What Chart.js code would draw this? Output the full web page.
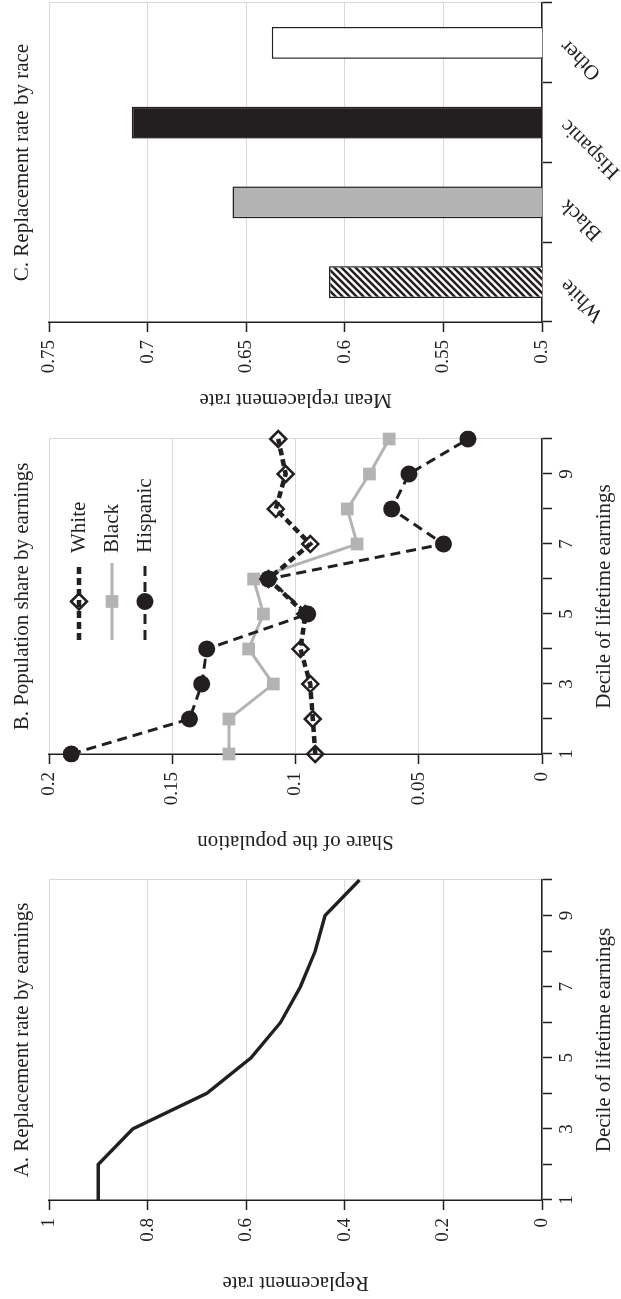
<!DOCTYPE html>
<html>
<head>
<meta charset="utf-8">
<script src="https://cdn.jsdelivr.net/npm/chart.js@4.4.1/dist/chart.umd.min.js"></script>
<style>
  html, body { margin: 0; padding: 0; background: #fff; overflow: hidden; }
  /* the figure is laid out landscape, then turned a quarter turn counter-clockwise */
  #page {
    position: absolute; left: 0; top: 0;
    width: 1299px; height: 621px;
    transform-origin: 0 0;
    transform: translateY(1299px) rotate(-90deg);
  }
  #page canvas { position: absolute; top: 0; }
</style>
</head>
<body>
<div id="page">
  <canvas id="chartA" width="430" height="621" style="left:0px"></canvas>
  <canvas id="chartB" width="430" height="621" style="left:441px"></canvas>
  <canvas id="chartC" width="416" height="621" style="left:883px"></canvas>
</div>
<script>
const deciles = [1, 2, 3, 4, 5, 6, 7, 8, 9, 10];
const replacementRate = [0.90, 0.90, 0.83, 0.68, 0.59, 0.53, 0.49, 0.46, 0.44, 0.37];

const shareWhite = [0.092, 0.093, 0.094, 0.098, 0.096, 0.111, 0.094, 0.108, 0.104, 0.107];
const shareBlack = [0.127, 0.127, 0.109, 0.119, 0.113, 0.117, 0.075, 0.079, 0.070, 0.062];
const shareHispanic = [0.191, 0.143, 0.138, 0.136, 0.095, 0.111, 0.040, 0.061, 0.054, 0.030];

const races = ["White", "Black", "Hispanic", "Other"];
const meanReplacement = [0.608, 0.657, 0.708, 0.637];

const ink = "#231f20";
const gray = "#b3b3b3";
const gridGray = "#d9d9d9";
const serif = "Liberation Serif";

Chart.defaults.font.family = serif;
Chart.defaults.color = ink;

/* Panel title, centred over the plot area */
const panelTitle = {
  id: "panelTitle",
  afterDraw(chart, args, opts) {
    const { ctx, chartArea } = chart;
    ctx.save();
    ctx.font = "21px '" + serif + "'";
    ctx.fillStyle = ink;
    ctx.textAlign = "center";
    ctx.textBaseline = "middle";
    ctx.fillText(opts.text, (chartArea.left + chartArea.right) / 2, 22);
    ctx.restore();
  }
};

/* Legend inside panel B: line sample with marker */
function drawMarker(ctx, ds, x, y) {
  const r = ds.pointRadius;
  ctx.beginPath();
  if (ds.pointStyle === "circle") {
    ctx.arc(x, y, r, 0, Math.PI * 2);
  } else if (ds.pointStyle === "rect") {
    const h = r * Math.SQRT1_2;
    ctx.rect(x - h, y - h, 2 * h, 2 * h);
  } else {
    ctx.moveTo(x, y - r); ctx.lineTo(x + r, y); ctx.lineTo(x, y + r); ctx.lineTo(x - r, y);
    ctx.closePath();
  }
  ctx.fillStyle = ds.pointBackgroundColor;
  ctx.fill();
  if (ds.pointBorderWidth > 0) {
    ctx.lineWidth = ds.pointBorderWidth;
    ctx.strokeStyle = ds.pointBorderColor;
    ctx.stroke();
  }
}

const seriesLegend = {
  id: "seriesLegend",
  afterDraw(chart, args, opts) {
    if (!opts.show) return;
    const { ctx, chartArea } = chart;
    chart.data.datasets.forEach((ds, i) => {
      const y = chartArea.top + 30 + i * 33;
      const x0 = chartArea.left + 114, x1 = chartArea.left + 191;
      ctx.save();
      ctx.strokeStyle = ds.borderColor;
      ctx.lineWidth = ds.borderWidth;
      ctx.setLineDash(ds.borderDash || []);
      ctx.beginPath();
      ctx.moveTo(x0, y);
      ctx.lineTo(x1, y);
      ctx.stroke();
      ctx.setLineDash([]);
      drawMarker(ctx, ds, (x0 + x1) / 2, y);
      ctx.fillStyle = ink;
      ctx.font = "21px '" + serif + "'";
      ctx.textBaseline = "middle";
      ctx.fillText(ds.label, chartArea.left + 201, y);
      ctx.restore();
    });
  }
};

function valueAxis(min, max, step, title, width) {
  return {
    min: min, max: max,
    ticks: {
      stepSize: step, padding: 8, color: ink,
      font: { family: serif, size: 19 },
      callback: v => String(+v.toFixed(2))
    },
    grid: { color: gridGray, lineWidth: 1, tickLength: 10, tickColor: ink, tickWidth: 1.5 },
    border: { color: ink, width: 1.5 },
    title: {
      display: true, text: title, color: ink,
      font: { family: serif, size: 21 },
      padding: { top: 4, bottom: 0 }
    },
    afterFit: s => { s.width = width; }
  };
}

function decileAxis() {
  return {
    type: "category",
    ticks: {
      autoSkip: false, maxRotation: 0, padding: 4, color: ink,
      font: { family: serif, size: 19 },
      callback: (v, i) => (deciles[i] % 2 === 1 ? String(deciles[i]) : "")
    },
    grid: {
      color: c => (c.index === deciles.length - 1 ? gridGray : "rgba(0,0,0,0)"),
      tickLength: 10, tickColor: ink, tickWidth: 1.5
    },
    border: { color: ink, width: 1.5 },
    title: {
      display: true, text: "Decile of lifetime earnings", color: ink,
      font: { family: serif, size: 21 },
      padding: { top: 0, bottom: 4 }
    },
    afterFit: s => { s.height = 79; }
  };
}

/* A. Replacement rate by earnings */
new Chart(document.getElementById("chartA"), {
  type: "line",
  data: {
    labels: deciles,
    datasets: [{
      label: "Replacement rate",
      data: replacementRate,
      borderColor: ink,
      borderWidth: 3.4,
      pointRadius: 0,
      tension: 0
    }]
  },
  options: {
    responsive: false,
    animation: false,
    layout: { padding: { left: 0, right: 11, top: 49, bottom: 0 } },
    scales: {
      x: decileAxis(),
      y: valueAxis(0, 1, 0.2, "Replacement rate", 99)
    },
    plugins: {
      legend: { display: false },
      tooltip: { enabled: false },
      panelTitle: { text: "A. Replacement rate by earnings" },
      seriesLegend: { show: false }
    }
  },
  plugins: [panelTitle, seriesLegend]
});

/* B. Population share by earnings */
new Chart(document.getElementById("chartB"), {
  type: "line",
  data: {
    labels: deciles,
    datasets: [
      {
        label: "White",
        data: shareWhite,
        borderColor: ink,
        borderWidth: 4.5,
        borderDash: [7, 4],
        tension: 0,
        pointStyle: "rectRot",
        pointRadius: 8,
        pointBorderWidth: 2.5,
        pointBorderColor: ink,
        pointBackgroundColor: "rgba(255,255,255,0)",
        order: 2
      },
      {
        label: "Black",
        data: shareBlack,
        borderColor: gray,
        borderWidth: 3,
        tension: 0,
        pointStyle: "rect",
        pointRadius: 9,
        pointBorderWidth: 0,
        pointBorderColor: gray,
        pointBackgroundColor: gray,
        order: 3
      },
      {
        label: "Hispanic",
        data: shareHispanic,
        borderColor: ink,
        borderWidth: 3,
        borderDash: [10, 6],
        tension: 0,
        pointStyle: "circle",
        pointRadius: 8.5,
        pointBorderWidth: 0,
        pointBorderColor: ink,
        pointBackgroundColor: ink,
        order: 1
      }
    ]
  },
  options: {
    responsive: false,
    animation: false,
    layout: { padding: { left: 0, right: 11, top: 49, bottom: 0 } },
    scales: {
      x: decileAxis(),
      y: valueAxis(0, 0.2, 0.05, "Share of the population", 104)
    },
    plugins: {
      legend: { display: false },
      tooltip: { enabled: false },
      panelTitle: { text: "B. Population share by earnings" },
      seriesLegend: { show: true }
    }
  },
  plugins: [panelTitle, seriesLegend]
});

/* C. Replacement rate by race */
const canvasC = document.getElementById("chartC");
function makeHatch(target) {
  const s = 7;
  const tile = document.createElement("canvas");
  tile.width = s; tile.height = s;
  const g = tile.getContext("2d");
  g.fillStyle = "#fff";
  g.fillRect(0, 0, s, s);
  g.strokeStyle = ink;
  g.lineWidth = 2.5;
  g.beginPath();
  g.moveTo(0, s); g.lineTo(s, 0);
  g.moveTo(-s / 2, s / 2); g.lineTo(s / 2, -s / 2);
  g.moveTo(s / 2, s * 1.5); g.lineTo(s * 1.5, s / 2);
  g.stroke();
  return target.getContext("2d").createPattern(tile, "repeat");
}

new Chart(canvasC, {
  type: "bar",
  data: {
    labels: races,
    datasets: [{
      label: "Mean replacement rate",
      data: meanReplacement,
      backgroundColor: [makeHatch(canvasC), gray, ink, "#ffffff"],
      borderColor: ink,
      borderWidth: 1.5,
      barPercentage: 0.4,
      categoryPercentage: 1
    }]
  },
  options: {
    responsive: false,
    animation: false,
    layout: { padding: { left: 0, right: 3, top: 49, bottom: 0 } },
    scales: {
      x: {
        type: "category",
        offset: true,
        ticks: {
          autoSkip: false, minRotation: 45, maxRotation: 45, padding: 3, color: ink,
          font: { family: serif, size: 21 }
        },
        grid: {
          offset: true,
          color: c => (c.type === "tick" ? "rgba(0,0,0,0)" : gridGray),
          tickLength: 10, tickColor: ink, tickWidth: 1.5
        },
        border: { color: ink, width: 1.5 },
        afterFit: s => { s.height = 79; }
      },
      y: valueAxis(0.5, 0.75, 0.05, "Mean replacement rate", 94)
    },
    plugins: {
      legend: { display: false },
      tooltip: { enabled: false },
      panelTitle: { text: "C. Replacement rate by race" },
      seriesLegend: { show: false }
    }
  },
  plugins: [panelTitle, seriesLegend]
});
</script>
</body>
</html>
